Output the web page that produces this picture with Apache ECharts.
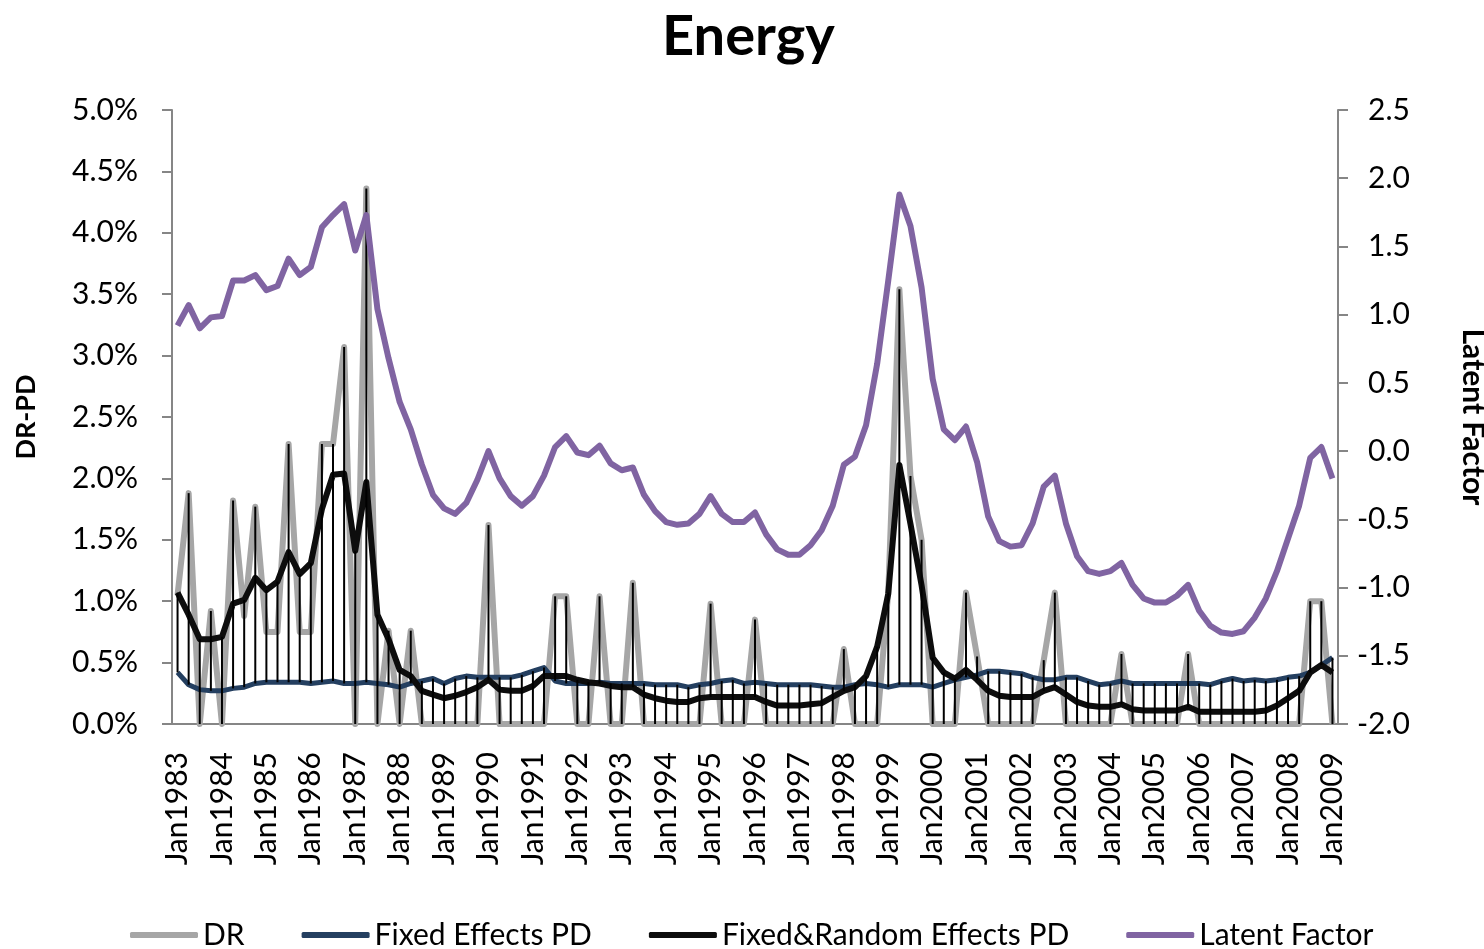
<!DOCTYPE html>
<html><head><meta charset="utf-8">
<script src="https://cdn.jsdelivr.net/npm/echarts@6/dist/echarts.min.js"></script>
<style>html,body{margin:0;padding:0;background:#fff}#c{width:1484px;height:949px}</style>
</head><body><div id="c"></div>
<script>
// Quarterly categories Jan1983 .. Jan2009
const months = ['Jan','Apr','Jul','Oct'];
const categories = [];
for (let y = 1983; y <= 2009; y++) for (let q = 0; q < 4; q++) { if (y === 2009 && q > 0) break; categories.push(months[q] + y); }

// Default rate (%)
const DR = [1.05,1.88,0,0.92,0,1.82,0.88,1.77,0.75,0.75,2.28,0.75,0.75,2.28,2.28,
3.07,0,4.36,0,0.76,0,0.76,0,0,0,0,0,0,1.62,0,
0,0,0,0,1.04,1.04,0,0,1.04,0,0,1.15,0,0,0,
0,0,0,0.98,0,0,0,0.85,0,0,0,0,0,0,0,0.61,
0,0,0,1.07,3.54,2.02,1.50,0,0,0,1.07,0.55,0,0,0,
0,0,0.52,1.07,0,0,0,0,0,0.57,0,0,0,0,0,
0.57,0,0,0,0,0,0,0,0,0,0,1.0,1.0,0];

// Fixed Effects PD (%)
const FE = [0.42,0.32,0.28,0.27,0.27,0.29,0.30,0.33,0.34,0.34,0.34,0.34,0.33,0.34,0.35,
0.33,0.33,0.34,0.33,0.32,0.30,0.33,0.35,0.37,0.33,0.37,0.39,0.38,0.38,0.38,
0.38,0.40,0.43,0.46,0.35,0.33,0.33,0.33,0.34,0.33,0.33,0.33,0.33,0.32,0.32,
0.32,0.30,0.32,0.33,0.35,0.36,0.33,0.34,0.33,0.32,0.32,0.32,0.32,0.31,0.30,0.30,
0.32,0.33,0.32,0.30,0.32,0.32,0.32,0.30,0.33,0.36,0.38,0.40,0.43,0.43,0.42,
0.41,0.38,0.36,0.36,0.38,0.38,0.35,0.32,0.33,0.35,0.33,0.33,0.33,0.33,0.33,
0.33,0.33,0.32,0.35,0.37,0.35,0.36,0.35,0.36,0.38,0.39,0.42,0.48,0.54];

// Fixed & Random Effects PD (%)
const FRE = [1.07,0.89,0.69,0.69,0.71,0.98,1.01,1.19,1.09,1.16,1.40,1.22,1.31,1.75,2.03,
2.04,1.41,1.97,0.89,0.69,0.44,0.39,0.27,0.24,0.21,0.23,0.26,0.30,0.36,0.28,
0.27,0.27,0.31,0.39,0.39,0.39,0.36,0.34,0.33,0.31,0.30,0.30,0.24,0.21,0.19,
0.18,0.18,0.21,0.22,0.22,0.22,0.22,0.22,0.18,0.15,0.15,0.15,0.16,0.17,0.22,0.27,
0.30,0.39,0.63,1.06,2.11,1.63,1.13,0.54,0.42,0.37,0.44,0.36,0.27,0.23,0.22,
0.22,0.22,0.27,0.30,0.24,0.18,0.15,0.14,0.14,0.16,0.12,0.11,0.11,0.11,0.11,
0.14,0.10,0.10,0.10,0.10,0.10,0.10,0.11,0.15,0.21,0.27,0.42,0.48,0.42];

// Latent factor (right axis)
const LATENT = [0.92,1.07,0.90,0.98,0.99,1.25,1.25,1.29,1.18,1.21,1.41,1.29,1.35,1.64,1.73,
1.81,1.47,1.73,1.04,0.68,0.36,0.16,-0.10,-0.32,-0.42,-0.46,-0.38,-0.21,0.00,-0.20,
-0.33,-0.40,-0.33,-0.18,0.03,0.11,-0.01,-0.03,0.04,-0.09,-0.14,-0.12,-0.32,-0.44,-0.52,
-0.54,-0.53,-0.46,-0.33,-0.46,-0.52,-0.52,-0.45,-0.61,-0.72,-0.76,-0.76,-0.69,-0.58,-0.40,-0.10,
-0.04,0.19,0.64,1.25,1.88,1.65,1.20,0.53,0.16,0.08,0.18,-0.08,-0.48,-0.66,-0.70,
-0.69,-0.53,-0.26,-0.18,-0.53,-0.77,-0.88,-0.90,-0.88,-0.82,-0.98,-1.08,-1.11,-1.11,-1.06,
-0.98,-1.17,-1.28,-1.33,-1.34,-1.32,-1.22,-1.08,-0.88,-0.64,-0.40,-0.05,0.03,-0.20];

const leftTicks = {min: 0, max: 5, interval: 0.5};
const rightTicks = {min: -2, max: 2.5, interval: 0.5};

const hiLo = categories.map((c, i) => {
  const vals = [DR[i], FE[i], FRE[i]];
  return [i, Math.min.apply(null, vals), Math.max.apply(null, vals)];
});

const FONT = 'Lato';
const chart = echarts.init(document.getElementById('c'), null, {renderer: 'canvas'});
chart.setOption({
  animation: false,
  backgroundColor: '#fff',
  textStyle: {fontFamily: FONT},
  title: {text: 'Energy', left: 657, top: 4,
    textStyle: {fontFamily: FONT, fontSize: 56, fontWeight: 'bold', color: '#000'}},
  grid: {left: 172, right: 146, top: 110, bottom: 225, containLabel: false, outerBoundsMode: 'none'},
  legend: {
    bottom: -6, left: 125, itemWidth: 68, itemHeight: 6, itemGap: 57, icon: 'roundRect',
    textStyle: {fontFamily: FONT, fontSize: 30, color: '#000'},
    data: ['DR', 'Fixed Effects PD', 'Fixed&Random Effects PD', 'Latent Factor']
  },
  xAxis: {
    type: 'category', data: categories, boundaryGap: true,
    axisLine: {lineStyle: {color: '#868686', width: 2}},
    axisTick: {show: false},
    axisLabel: {interval: 3, rotate: 90, margin: 28, fontSize: 30, color: '#000', fontFamily: FONT}
  },
  yAxis: [{
    type: 'value', min: leftTicks.min, max: leftTicks.max, interval: leftTicks.interval,
    name: 'DR-PD', nameLocation: 'middle', nameGap: 132, nameRotate: 90,
    nameTextStyle: {fontFamily: FONT, fontSize: 27, fontWeight: 'bold', color: '#000'},
    axisLine: {show: true, lineStyle: {color: '#868686', width: 2}},
    axisTick: {show: true, length: 10, lineStyle: {color: '#868686', width: 2}},
    splitLine: {show: false},
    axisLabel: {margin: 34, fontSize: 30, color: '#000', fontFamily: FONT,
      formatter: v => v.toFixed(1) + '%'}
  }, {
    type: 'value', min: rightTicks.min, max: rightTicks.max, interval: rightTicks.interval, position: 'right',
    name: 'Latent Factor', nameLocation: 'middle', nameGap: 120, nameRotate: -90,
    nameTextStyle: {fontFamily: FONT, fontSize: 30, fontWeight: 'bold', color: '#000'},
    axisLine: {show: true, lineStyle: {color: '#868686', width: 2}},
    axisTick: {show: true, length: 10, lineStyle: {color: '#868686', width: 2}},
    splitLine: {show: false},
    axisLabel: {margin: 72, align: 'right', fontSize: 30, color: '#000', fontFamily: FONT,
      formatter: v => v.toFixed(1)}
  }],
  series: [
    {name: 'DR', type: 'line', data: DR, yAxisIndex: 0, symbol: 'none', z: 2,
      lineStyle: {color: '#A6A6A6', width: 6, join: 'round'}, itemStyle: {color: '#A6A6A6'}},
    {name: 'Fixed Effects PD', type: 'line', data: FE, yAxisIndex: 0, symbol: 'none', z: 3,
      lineStyle: {color: '#243F60', width: 5, join: 'round'}, itemStyle: {color: '#243F60'}},
    {name: 'Fixed&Random Effects PD', type: 'line', data: FRE, yAxisIndex: 0, symbol: 'none', z: 4,
      lineStyle: {color: '#0D0D0D', width: 6, join: 'round'}, itemStyle: {color: '#0D0D0D'}},
    {name: 'hilo', type: 'custom', yAxisIndex: 0, z: 5, silent: true,
      data: hiLo,
      encode: {x: 0, y: [1, 2]},
      renderItem: function (params, api) {
        const lo = api.coord([api.value(0), api.value(1)]);
        const hi = api.coord([api.value(0), api.value(2)]);
        return {type: 'line', shape: {x1: lo[0], y1: lo[1], x2: hi[0], y2: hi[1]},
          style: {stroke: '#000', lineWidth: 2}};
      }},
    {name: 'Latent Factor', type: 'line', data: LATENT, yAxisIndex: 1, symbol: 'none', z: 6,
      lineStyle: {color: '#8064A2', width: 6, join: 'round'}, itemStyle: {color: '#8064A2'}}
  ]
});
</script></body></html>
